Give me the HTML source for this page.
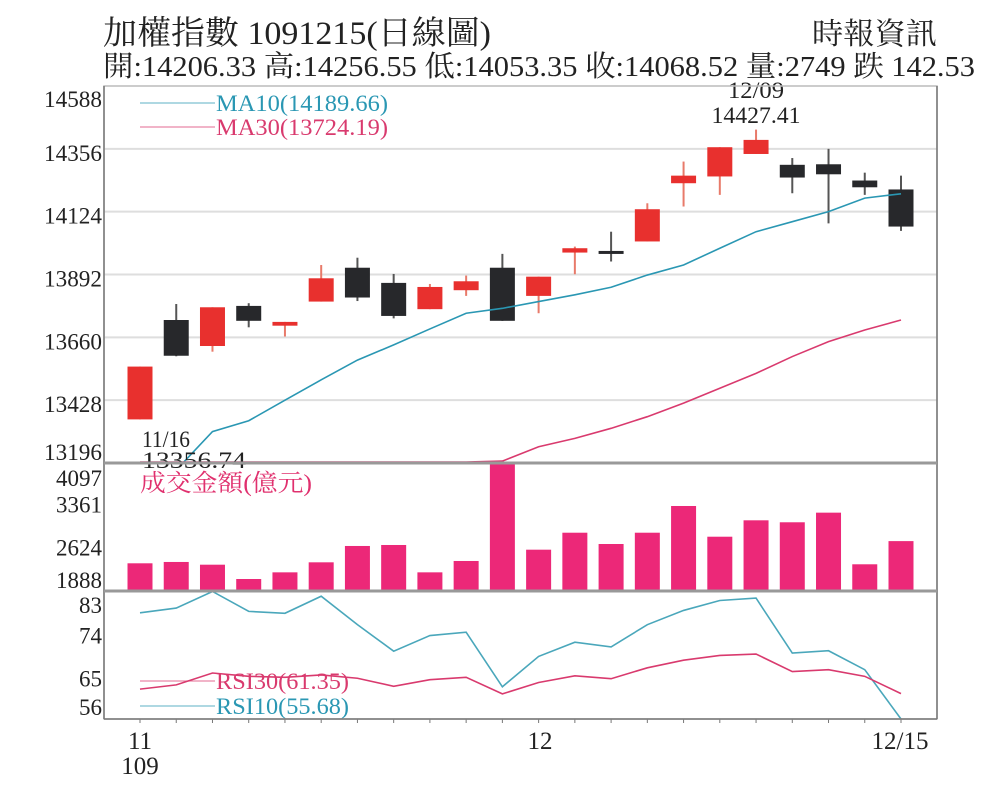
<!DOCTYPE html>
<html><head><meta charset="utf-8"><style>
html,body{margin:0;padding:0;background:#fff;}
svg{display:block;font-family:"Liberation Serif","Noto Serif CJK SC","Noto Sans CJK TC",serif;}
</style></head><body>
<svg id="chart" width="1000" height="801" viewBox="0 0 1000 801">
<text x="103" y="44" font-size="33" fill="#222" textLength="388" lengthAdjust="spacingAndGlyphs">加權指數 1091215(日線圖)</text>
<text x="812" y="44" font-size="30" fill="#222" textLength="125" lengthAdjust="spacingAndGlyphs">時報資訊</text>
<text x="103" y="76" font-size="29" fill="#222" textLength="872" lengthAdjust="spacingAndGlyphs">開:14206.33 高:14256.55 低:14053.35 收:14068.52 量:2749 跌 142.53</text>
<g id="grid"></g>
<g id="marks"></g>
<g id="frame"></g>
</svg>
<script>
const categories = ["11/16","11/17","11/18","11/19","11/20","11/23","11/24","11/25","11/26","11/27","11/30","12/01","12/02","12/03","12/04","12/07","12/08","12/09","12/10","12/11","12/14","12/15"];
const openVals  = [13357,13724,13628,13776,13703,13792,13917,13861,13764,13834,13917,13813,13973,13979,14014,14229,14254,14337,14297,14299,14239,14206];
const closeVals = [13552,13592,13771,13721,13717,13878,13807,13739,13846,13867,13721,13884,13989,13969,14133,14257,14362,14389,14250,14262,14214,14069];
const highVals  = [13552,13783,13771,13786,13717,13927,13954,13894,13857,13888,13968,13884,13995,14050,14155,14309,14362,14427,14322,14356,14268,14257];
const lowVals   = [13357,13590,13607,13697,13663,13792,13794,13730,13764,13813,13721,13749,13893,13940,14014,14143,14186,14337,14192,14081,14186,14053];
const ma10Vals  = [13120,13170,13312,13352,13428,13503,13576,13632,13691,13749,13767,13792,13817,13845,13890,13927,13989,14050,14087,14124,14174,14190];
const ma30Vals  = [13150,13155,13160,13165,13170,13175,13180,13185,13190,13196,13203,13256,13287,13324,13367,13417,13472,13527,13589,13644,13687,13724];
const volumeVals= [2366,2389,2342,2095,2210,2383,2665,2682,2210,2406,4097,2601,2894,2699,2894,3355,2825,3108,3074,3240,2349,2749];
const rsi10Vals = [78.4,79.4,82.9,78.7,78.3,81.9,75.9,70.3,73.6,74.3,62.8,69.2,72.2,71.2,75.9,78.9,81.0,81.5,69.9,70.4,66.4,55.68];
const rsi30Vals = [62.3,63.2,65.7,65.0,64.8,65.3,64.6,62.9,64.3,64.8,61.3,63.7,65.1,64.5,66.8,68.4,69.4,69.7,66.0,66.4,65.0,61.35];
const priceTicks = [14588,14356,14124,13892,13660,13428,13196];
const volumeTicks = [4097,3361,2624,1888];
const rsiTicks = [83,74,65,56];

const NS="http://www.w3.org/2000/svg";
const L=104,R=937;
const X0=140,X1=901;
const xPos=i=>X0+(X1-X0)*i/(categories.length-1);
const pTop=86,pBot=463,pMin=13196,pMax=14588;
const yP=v=>pBot-(v-pMin)*(pBot-pTop)/(pMax-pMin);
const vTop=463,vBot=591,vMin=1888,vMax=4097;
const yV=v=>vBot-(v-vMin)*(vBot-vTop)/(vMax-vMin);
const rTop=591,rBot=719,rMin=56,rMax=83;
const yR=v=>rBot-(v-rMin)*(rBot-rTop)/(rMax-rMin);
const clamp=(v,a,b)=>Math.max(a,Math.min(b,v));
const grid=document.getElementById('grid'),marks=document.getElementById('marks'),frame=document.getElementById('frame');
function mk(tag,attrs,parent,txt){const e=document.createElementNS(NS,tag);for(const k in attrs)e.setAttribute(k,attrs[k]);if(txt!==undefined)e.textContent=txt;parent.appendChild(e);return e;}
const TF=23;

priceTicks.forEach(t=>{
  const gy=yP(t);
  if(t!==pMin&&t!==pMax){const g=mk('line',{x1:L,x2:R,y1:gy,y2:gy,stroke:'#dedede','stroke-width':2},grid);
  
  }
  const lb=mk('text',{x:102,y:clamp(gy+12,107,460),'font-size':TF,'text-anchor':'end',fill:'#222',textLength:58,lengthAdjust:'spacingAndGlyphs'},grid,String(t));
  
  
});
volumeTicks.forEach(t=>{
  const lb=mk('text',{x:102,y:clamp(yV(t)+7,486,588),'font-size':TF,'text-anchor':'end',fill:'#222',textLength:46,lengthAdjust:'spacingAndGlyphs'},grid,String(t));
  
  
});
rsiTicks.forEach(t=>{
  const lb=mk('text',{x:102,y:clamp(yR(t)+10,613,715),'font-size':TF,'text-anchor':'end',fill:'#222'},grid,String(t));
  
  
});

const defs=mk('defs',{},marks);
const cp=mk('clipPath',{id:'pclip'},defs);
mk('rect',{x:L,y:pTop,width:R-L,height:pBot-pTop},cp);

function legend(y,color,label,name,w){
  const l=mk('line',{x1:140,x2:215,y1:y,y2:y,stroke:color,'stroke-width':1.3,opacity:0.6},marks);
  
  
  const t=mk('text',{x:216,y:y+8,'font-size':TF,fill:color,textLength:w,lengthAdjust:'spacingAndGlyphs'},marks,label);
  
  
}
legend(103,'#2a97b3','MA10(14189.66)','ma10',172);
legend(127,'#d93a6e','MA30(13724.19)','ma30',172);

const BW=25;
categories.forEach((c,i)=>{
  const x=xPos(i),up=closeVals[i]>=openVals[i];
  const col=up?'#e8302e':'#27282b';
  const wk=mk('line',{x1:x,x2:x,y1:yP(highVals[i]),y2:yP(lowVals[i]),stroke:up?'#e87a6a':'#555','stroke-width':2},marks);
  
  
  const t=yP(Math.max(openVals[i],closeVals[i])),b=yP(Math.min(openVals[i],closeVals[i]));
  const bd=mk('rect',{x:x-BW/2,y:t,width:BW,height:Math.max(3,b-t),fill:col},marks);
  
  
  const vb=mk('rect',{x:x-BW/2,y:yV(volumeVals[i]),width:BW,height:vBot-yV(volumeVals[i]),fill:'#ec2878'},marks);
  
  
  const tk=mk('line',{x1:x,x2:x,y1:rBot,y2:rBot+4,stroke:'#777','stroke-width':1},frame);
  
  
});
function poly(vals,yf,color,name,clip,minY,maxY){
  const pts=vals.map((v,i)=>xPos(i)+','+clamp(yf(v),minY,maxY)).join(' ');
  const p=mk('polyline',{points:pts,fill:'none',stroke:color,'stroke-width':1.6},marks);
  if(clip)p.setAttribute('clip-path','url(#pclip)');
  
  
}
poly(ma10Vals,yP,'#2a97b3','ma10-line',true,pTop,pBot+20);
poly(ma30Vals,yP,'#d93a6e','ma30-line',false,pTop,pBot-1);
poly(rsi10Vals,yR,'#4aa7bb','rsi10-line',false,rTop,rBot);
poly(rsi30Vals,yR,'#d93a6e','rsi30-line',false,rTop,rBot);
legend(681,'#d93a6e','RSI30(61.35)','rsi30',133);
legend(706,'#2a97b3','RSI10(55.68)','rsi10',133);

const vl=mk('text',{x:140,y:491,'font-size':24,fill:'#e0306e',textLength:172,lengthAdjust:'spacingAndGlyphs'},marks,'成交金額(億元)');



[['11/16',142,447,48],['13356.74',142,468,104]].forEach(a=>{const t=mk('text',{x:a[1],y:a[2],'font-size':TF,fill:'#222',textLength:a[3],lengthAdjust:'spacingAndGlyphs'},marks,a[0]);

});
[['12/09',756,98,56],['14427.41',756,123,89]].forEach(a=>{const t=mk('text',{x:a[1]-a[3]/2,y:a[2],'font-size':TF,fill:'#222',textLength:a[3],lengthAdjust:'spacingAndGlyphs'},marks,a[0]);

});

const fr=mk('rect',{x:L,y:pTop,width:R-L,height:rBot-pTop,fill:'none',stroke:'#bbb','stroke-width':1.5},frame);


[[L,pTop,L,rBot],[R,pTop,R,rBot],[L,rBot,R,rBot]].forEach(s=>{const l=mk('line',{x1:s[0],y1:s[1],x2:s[2],y2:s[3],stroke:'#777','stroke-width':1.5},frame);

});
[pBot,vBot].forEach(y=>{const l=mk('line',{x1:L,x2:R,y1:y,y2:y,stroke:'#999','stroke-width':3},frame);

});
[['11',140,749],['109',140,774],['12',540,749],['12/15',900,749]].forEach(a=>{const t=mk('text',{x:a[1],y:a[2],'font-size':25,fill:'#222','text-anchor':'middle'},frame,a[0]);

});
</script>
</body></html>
